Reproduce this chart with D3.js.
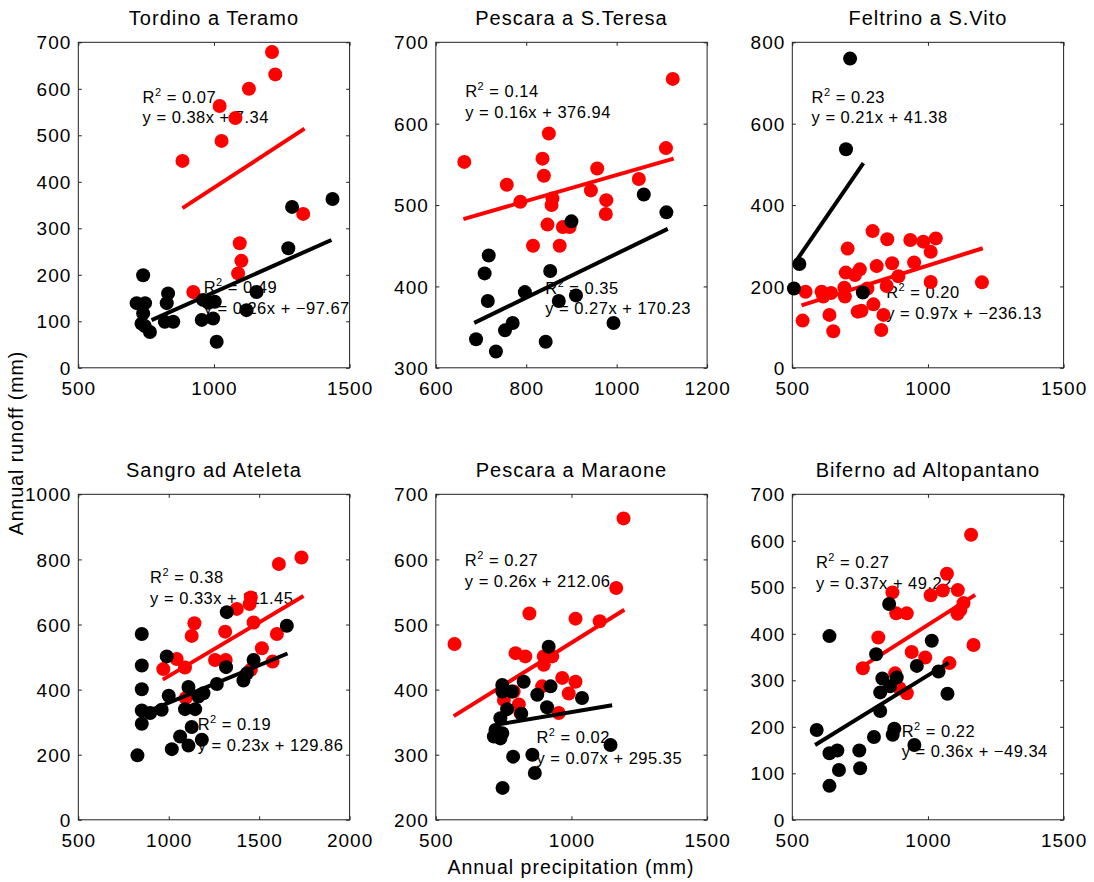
<!DOCTYPE html>
<html><head><meta charset="utf-8">
<script src="https://cdn.jsdelivr.net/npm/d3@7"></script>
<style>
body{margin:0;background:#fff}
text{font-family:"Liberation Sans",Arial,Helvetica,sans-serif;fill:#000}
</style>
</head><body>
<svg id="chart" width="1094" height="882"></svg>
<script>
// ---------------- DATA ----------------
const titles = ["Tordino a Teramo","Pescara a S.Teresa","Feltrino a S.Vito","Sangro ad Ateleta","Pescara a Maraone","Biferno ad Altopantano"];
const xDomains = [[500,1500],[600,1200],[500,1500],[500,2000],[500,1500],[500,1500]];
const yDomains = [[0,700],[300,700],[0,800],[0,1000],[200,700],[0,700]];
const xTickVals = [[500,1000,1500],[600,800,1000,1200],[500,1000,1500],[500,1000,1500,2000],[500,1000,1500],[500,1000,1500]];
const yTickVals = [[0,100,200,300,400,500,600,700],[300,400,500,600,700],[0,200,400,600,800],[0,200,400,600,800,1000],[200,300,400,500,600,700],[0,100,200,300,400,500,600,700]];

const redTordino = [[1214,679],[1226,631],[1129,600],[1021,563],[1079,537],[1028,488],[884,445],[1329,331],[1095,268],[1101,230],[1089,203],[924,163]];
const blackTordino = [[739,199],[715,139],[746,139],[739,117],[733,95],[764,77],[745,90],[831,160],[826,139],[819,99],[850,99],[960,146],[1003,142],[955,103],[997,106],[1010,56],[1157,163],[1120,124],[1274,257],[1288,346],[1437,363],[980,140]];
const redTeresa = [[663,553],[1124,655],[850,588],[836,557],[839,536],[757,525],[787,504],[858,508],[856,500],[847,476],[815,450],[874,450],[881,473],[896,473],[957,545],[943,518],[977,506],[976,489],[1049,532],[1109,570]];
const blackTeresa = [[900,480],[1060,513],[1110,491],[717,438],[708,416],[853,419],[715,382],[797,393],[872,382],[910,389],[993,355],[770,355],[753,346],[689,335],[733,320],[843,332]];
const redFeltrino = [[549,187],[538,116],[608,187],[614,175],[643,184],[637,130],[651,90],[692,197],[694,175],[697,234],[704,293],[731,228],[749,242],[741,138],[755,140],[777,195],[799,156],[796,336],[811,250],[850,316],[868,257],[848,201],[836,130],[828,93],[891,225],[935,314],[949,259],[983,310],[1010,285],[1029,318],[1010,211],[1199,210]];
const blackFeltrino = [[713,760],[698,537],[526,255],[506,195],[760,185]];
const redSangro = [[1734,806],[1609,786],[1454,683],[1447,663],[1376,648],[1312,578],[1142,604],[1127,565],[1469,606],[1598,571],[1515,527],[1574,486],[1454,461],[1256,491],[1315,491],[970,463],[1044,494],[1090,468],[1094,374]];
const blackSangro = [[851,571],[851,474],[851,401],[851,336],[851,295],[827,198],[897,328],[961,338],[989,502],[1000,381],[1017,217],[1063,256],[1109,228],[1127,285],[1109,408],[1090,340],[1146,340],[1164,379],[1192,389],[1183,246],[1266,417],[1317,469],[1321,638],[1413,428],[1432,450],[1469,491],[1653,596]];
const redMaraone = [[569,470],[1192,663],[1165,556],[845,517],[1015,509],[1104,505],[794,456],[830,451],[898,451],[929,451],[898,438],[966,418],[1015,412],[990,394],[892,405],[787,397],[751,384],[812,364],[953,364],[806,377]];
const blackMaraone = [[916,466],[824,412],[745,407],[745,397],[781,397],[874,392],[923,405],[1039,387],[910,373],[763,370],[815,363],[738,356],[720,338],[714,328],[745,333],[738,325],[1144,315],[785,297],[856,300],[865,272],[746,249]];
const redBiferno = [[1159,613],[1070,529],[1110,494],[1055,493],[1010,483],[869,489],[883,444],[922,444],[1131,466],[1119,451],[1109,443],[817,392],[1168,376],[940,361],[990,349],[1079,337],[760,326],[879,315],[895,283],[922,272]];
const blackBiferno = [[857,464],[637,395],[1014,385],[809,356],[959,331],[1039,319],[832,304],[885,306],[860,287],[824,274],[1072,271],[824,234],[590,193],[876,196],[870,183],[801,178],[950,161],[637,143],[666,149],[747,149],[750,111],[672,107],[637,73]];

// regression fits: [slope, intercept, xStart, xEnd]
const redFits = [[0.38,7.34,884,1334],[0.16,376.94,661,1126],[0.21,41.38,534,1202],[0.33,111.45,967,1745],[0.26,212.06,566,1195],[0.37,49.22,756,1174]];
const blackFits = [[0.26,-97.67,770,1433],[0.27,170.23,685,1113],[0.97,-236.13,513,762],[0.23,129.86,851,1657],[0.07,295.35,738,1150],[0.36,-49.34,584,1076]];

// annotation texts and anchor (data coords of first baseline)
const upperR2 = ["0.07","0.14","0.23","0.38","0.27","0.27"];
const upperEq = ["y = 0.38x + 7.34","y = 0.16x + 376.94","y = 0.21x + 41.38","y = 0.33x + 111.45","y = 0.26x + 212.06","y = 0.37x + 49.22"];
const upperPos = [[737,570],[665,633],[571,652],[897,727],[607,590],[587,541]];
const lowerR2 = ["0.49","0.35","0.20","0.19","0.02","0.22"];
const lowerEq = ["y = 0.26x + \u221297.67","y = 0.27x + 170.23","y = 0.97x + \u2212236.13","y = 0.23x + 129.86","y = 0.07x + 295.35","y = 0.36x + \u221249.34"];
const lowerPos = [[962,160],[842,391],[846,172],[1160,276],[871,318],[903,179]];

const xLabel = "Annual precipitation (mm)";
const yLabel = "Annual runoff (mm)";

// ---------------- LAYOUT ----------------
const redSets = [redTordino,redTeresa,redFeltrino,redSangro,redMaraone,redBiferno];
const blackSets = [blackTordino,blackTeresa,blackFeltrino,blackSangro,blackMaraone,blackBiferno];
const colLeft = [78.3, 435.8, 792.3];
const rowTop = [42.3, 494.3];
const W = 271.3, H = 325.5;
const RED = "#ff0000", BLK = "#000000";
const R = 7;

const svg = d3.select("#chart");
svg.append("rect").attr("width",1094).attr("height",882).attr("fill","#fff");

for (let i = 0; i < 6; i++) {
  const left = colLeft[i % 3], top = rowTop[Math.floor(i / 3)];
  const g = svg.append("g").attr("transform", `translate(${left},${top})`);
  const x = d3.scaleLinear().domain(xDomains[i]).range([0, W]);
  const y = d3.scaleLinear().domain(yDomains[i]).range([H, 0]);

  // box
  g.append("rect").attr("width", W).attr("height", H)
    .attr("fill", "none").attr("stroke", "#222").attr("stroke-width", 1);

  // axes with inward ticks on all four sides
  const tl = 3.5;
  const styleAxis = sel => {
    sel.select(".domain").remove();
    sel.selectAll(".tick line").attr("stroke", "#222");
  };
  g.append("g").attr("transform", `translate(0,${H})`)
    .call(d3.axisBottom(x).tickValues(xTickVals[i]).tickSize(-tl).tickPadding(0).tickFormat(d3.format("d")))
    .call(styleAxis)
    .call(s => s.selectAll(".tick text").attr("y", 27.5).attr("dy", null)
      .attr("font-size", 19).attr("letter-spacing", "1px").attr("fill", "#000")
      .attr("font-family", '"Liberation Sans",Arial,sans-serif'));
  g.append("g")
    .call(d3.axisTop(x).tickValues(xTickVals[i]).tickSize(-tl).tickFormat(""))
    .call(styleAxis);
  g.append("g")
    .call(d3.axisLeft(y).tickValues(yTickVals[i]).tickSize(-tl).tickPadding(0).tickFormat(d3.format("d")))
    .call(styleAxis)
    .call(s => s.selectAll(".tick text").attr("x", -7).attr("dy", "0.35em")
      .attr("font-size", 19).attr("letter-spacing", "1px").attr("fill", "#000")
      .attr("font-family", '"Liberation Sans",Arial,sans-serif'));
  g.append("g").attr("transform", `translate(${W},0)`)
    .call(d3.axisRight(y).tickValues(yTickVals[i]).tickSize(-tl).tickFormat(""))
    .call(styleAxis);

  // title
  g.append("text").attr("x", W / 2).attr("y", -17.5).attr("text-anchor", "middle")
    .attr("font-size", 20).attr("letter-spacing", "1px").text(titles[i]);

  // annotations (drawn beneath markers)
  const annot = (pos, r2, eq) => {
    const t = g.append("text").attr("x", x(pos[0])).attr("y", y(pos[1]))
      .attr("font-size", 16.5).attr("letter-spacing", "0.5px");
    t.append("tspan").text("R");
    t.append("tspan").attr("font-size", 11).attr("dy", -7).text("2");
    t.append("tspan").attr("dy", 7).text(" = " + r2);
    g.append("text").attr("x", x(pos[0])).attr("y", y(pos[1]) + 20.7)
      .attr("font-size", 16.5).attr("letter-spacing", "0.5px").text(eq);
  };
  annot(upperPos[i], upperR2[i], upperEq[i]);
  annot(lowerPos[i], lowerR2[i], lowerEq[i]);

  const drawSeries = (pts, fit, color) => {
    g.append("g").selectAll("circle").data(pts).join("circle")
      .attr("cx", d => x(d[0])).attr("cy", d => y(d[1])).attr("r", R).attr("fill", color);
    const lineData = [fit[2], fit[3]].map(v => [v, fit[0] * v + fit[1]]);
    g.append("path").datum(lineData)
      .attr("d", d3.line().x(d => x(d[0])).y(d => y(d[1])))
      .attr("stroke", color).attr("stroke-width", 4).attr("fill", "none");
  };
  drawSeries(redSets[i], redFits[i], RED);
  drawSeries(blackSets[i], blackFits[i], BLK);
}

// global axis labels
svg.append("text").attr("x", 571).attr("y", 874).attr("text-anchor", "middle")
  .attr("font-size", 19.5).attr("letter-spacing", "1px").text(xLabel);
svg.append("text").attr("transform", "translate(23,443) rotate(-90)").attr("text-anchor", "middle")
  .attr("font-size", 19.5).attr("letter-spacing", "1px").text(yLabel);
</script>
</body></html>
